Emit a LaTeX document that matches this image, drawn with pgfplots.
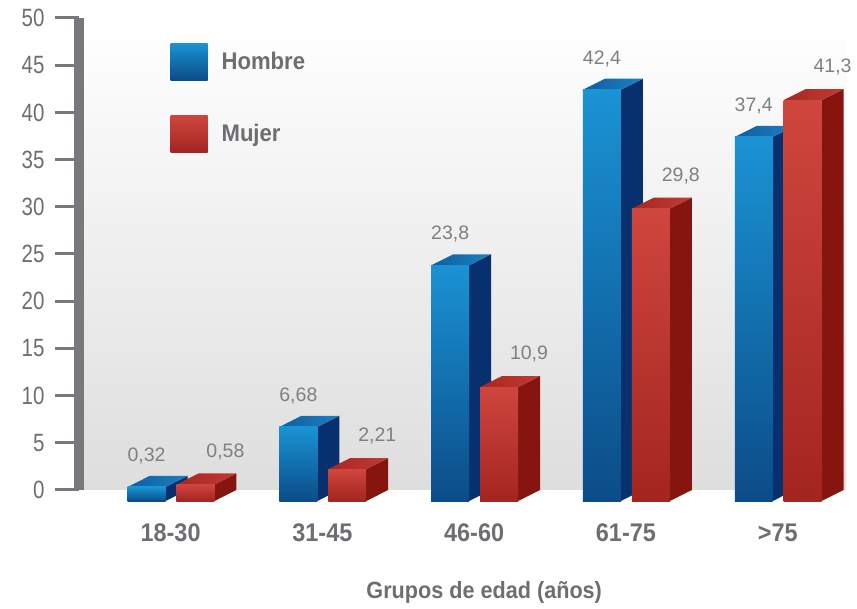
\documentclass[border=0pt]{standalone}
\usepackage{pgfplots}
\pgfplotsset{compat=1.18}
\usepackage{fontspec}
\setmainfont{Liberation Sans}
\newfontfamily\ticfam{Liberation Sans}[FakeStretch=0.82]
\newfontfamily\labfam{Liberation Sans}[FakeStretch=0.92]
\newfontfamily\valfam{Liberation Sans}

\definecolor{tickgray}{HTML}{6D6E71}
\definecolor{axgray}{HTML}{77787B}
\definecolor{valgray}{HTML}{808080}
\definecolor{bfT}{HTML}{1A93D4}
\definecolor{bfB}{HTML}{0B4C88}
\definecolor{bside}{HTML}{08306F}
\definecolor{btopL}{HTML}{0F5E9E}
\definecolor{btopD}{HTML}{1C80C2}
\definecolor{rfT}{HTML}{CF463E}
\definecolor{rfB}{HTML}{A32520}
\definecolor{rside}{HTML}{86150F}
\definecolor{rtopL}{HTML}{A82722}
\definecolor{rtopD}{HTML}{C23A33}

\def\dx{0.145}
\def\dy{1.17}
% 3D bar: #1 left x of front face, #2 value, #3 front style, #4 side style, #5 top style
\newcommand{\tdbar}[5]{%
  \pgfmathsetmacro\xa{#1}%
  \pgfmathsetmacro\xb{#1+0.25}%
  \pgfmathsetmacro\xc{#1+0.25+\dx}%
  \pgfmathsetmacro\xd{#1+\dx}%
  \pgfmathsetmacro\yb{-\dy}%
  \pgfmathsetmacro\yt{#2}%
  \pgfmathsetmacro\ytt{#2+\dy}%
  \edef\tmp{%
    \noexpand\addplot[#4,forget plot] coordinates {(\xb,\yb) (\xc,0) (\xc,\ytt) (\xb,\yt)} -- cycle;
    \noexpand\addplot[#5,forget plot] coordinates {(\xa,\yt) (\xb,\yt) (\xc,\ytt) (\xd,\ytt)} -- cycle;
    \noexpand\addplot[#3,forget plot] coordinates {(\xa,\yb) (\xb,\yb) (\xb,\yt) (\xa,\yt)} -- cycle;
  }\tmp
}

\begin{document}
\begin{tikzpicture}
\useasboundingbox (0,0) rectangle (857pt,609pt);
\begin{axis}[
  at={(79.5pt,119pt)}, anchor=south west,
  scale only axis, width=766.5pt, height=472pt,
  xmin=-0.6, xmax=4.45, ymin=0, ymax=50,
  clip=false,
  axis x line*=bottom, axis y line*=left,
  x axis line style={draw=none},
  y axis line style={line width=10pt, color=axgray, -},
  xtick={0,1,2,3,4},
  xticklabels={18-30,31-45,46-60,61-75,{>75}},
  xtick style={draw=none},
  ytick={0,5,...,50},
  tick align=outside, major tick length=24.5pt,
  ytick style={line width=3pt, color=axgray},
  /pgf/number format/assume math mode=true,
  yticklabel style={font={\ticfam\fontsize{25}{28}\selectfont}, text=tickgray, xshift=-7pt},
  xticklabel style={font={\labfam\bfseries\fontsize{25.5}{28}\selectfont}, text=tickgray, yshift=-6pt},
  xlabel={Grupos de edad (años)},
  xlabel style={at={(axis description cs:0.528,-0.216)}, anchor=center,
    font={\labfam\bfseries\fontsize{23.5}{26}\selectfont}, text=tickgray},
  axis background/.style={shade, top color=white, middle color=white, bottom color=black!13},
  bfront/.style={draw=none, top color=bfT, bottom color=bfB},
  bside/.style={draw=none, fill=bside},
  btop/.style={draw=none, left color=btopL, right color=btopD},
  rfront/.style={draw=none, top color=rfT, bottom color=rfB},
  rside/.style={draw=none, fill=rside},
  rtop/.style={draw=none, left color=rtopL, right color=rtopD},
  legend style={at={(0.1186,0.947)}, anchor=north west, draw=none, fill=none,
    inner sep=0pt, row sep=35pt,
    font={\labfam\bfseries\fontsize{24}{26}\selectfont}, text=tickgray,
    nodes={inner xsep=14pt}},
  legend cell align=left,
]
\addlegendimage{legend image code/.code={\shade[draw=none, top color=bfT, bottom color=bfB] (0pt,-18.5pt) rectangle (37pt,18.5pt);}}
\addlegendentry{Hombre}
\addlegendimage{legend image code/.code={\shade[draw=none, top color=rfT, bottom color=rfB] (0pt,-18.5pt) rectangle (37pt,18.5pt);}}
\addlegendentry{Mujer}

% Hombre (blue) and Mujer (red) values per age group
\tdbar{-0.283}{0.32}{bfront}{bside}{btop}
\tdbar{0.039}{0.58}{rfront}{rside}{rtop}
\tdbar{0.717}{6.68}{bfront}{bside}{btop}
\tdbar{1.039}{2.21}{rfront}{rside}{rtop}
\tdbar{1.717}{23.8}{bfront}{bside}{btop}
\tdbar{2.039}{10.9}{rfront}{rside}{rtop}
\tdbar{2.717}{42.4}{bfront}{bside}{btop}
\tdbar{3.039}{29.8}{rfront}{rside}{rtop}
\tdbar{3.717}{37.4}{bfront}{bside}{btop}
\tdbar{4.039}{41.3}{rfront}{rside}{rtop}

% value labels
\addplot[draw=none, forget plot, nodes near coords, point meta=explicit symbolic,
  every node near coord/.append style={anchor=center, yshift=31pt,
    font={\valfam\fontsize{19.5}{21}\selectfont}, text=valgray}]
  coordinates {(-0.158,0.32)[0,32] (0.842,6.68)[6,68] (1.842,23.8)[23,8] (2.842,42.4)[42,4] (3.842,37.4)[37,4]};
\addplot[draw=none, forget plot, nodes near coords, point meta=explicit symbolic,
  every node near coord/.append style={anchor=center, yshift=33pt, xshift=30pt,
    font={\valfam\fontsize{19.5}{21}\selectfont}, text=valgray}]
  coordinates {(0.164,0.58)[0,58] (1.164,2.21)[2,21] (2.164,10.9)[10,9] (3.164,29.8)[29,8] (4.164,41.3)[41,3]};
\end{axis}
\end{tikzpicture}
\end{document}
